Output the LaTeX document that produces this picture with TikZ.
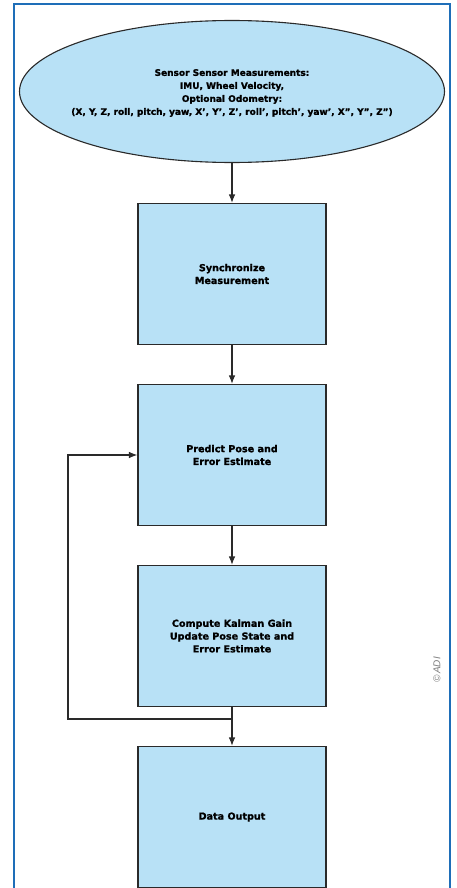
\documentclass[tikz,border=0pt]{standalone}
\usepackage{fontspec}
\setmainfont{DejaVu Sans}[BoldFeatures={FakeBold=1.2}]
\newfontfamily\copyfont{Liberation Sans}
\usetikzlibrary{shapes.geometric,arrows.meta}
\definecolor{boxfill}{HTML}{B8E1F6}
\definecolor{framec}{HTML}{1E6EB8}
\definecolor{linec}{HTML}{2A2A2A}
\begin{document}
\begin{tikzpicture}[x=1pt,y=-1pt,
  stepbox/.style={draw=linec,line width=1.1pt,fill=boxfill,minimum width=188pt,minimum height=141pt,
    align=center,font=\fontsize{9.6}{12.8}\selectfont\bfseries,inner sep=0pt},
  conn/.style={draw=linec,line width=1.1pt},
  arr/.style={conn,-{Latex[length=8.5pt,width=6.5pt]}}]
\useasboundingbox (0,0) rectangle (457,888);
\fill[white] (0,0) rectangle (457,888);
\draw[framec,line width=2pt] (14,892) -- (14,4) -- (450,4) -- (450,892);
\node[ellipse,draw=linec,line width=1.1pt,fill=boxfill,minimum width=425pt,minimum height=142pt,inner sep=0pt] (sensor) at (232,91.5) {};
\node[align=center,font=\fontsize{9}{13}\selectfont\bfseries,inner sep=0pt] (sensorlabel) at (232,93)
  {Sensor Sensor Measurements:\\IMU, Wheel Velocity,\\Optional Odometry:\\(X, Y, Z, roll, pitch, yaw, X', Y', Z', roll', pitch', yaw', X'', Y'', Z'')};
\node[stepbox] (sync) at (232,274) {Synchronize\\Measurement};
\node[stepbox] (predict) at (232,455) {Predict Pose and\\Error Estimate};
\node[stepbox] (compute) at (232,636) {Compute Kalman Gain\\Update Pose State and\\Error Estimate};
\node[stepbox] (output) at (232,817) {Data Output};
\coordinate (junc) at (232,719);
\coordinate (loopb) at (68,719);
\coordinate (loopt) at (68,455);
\draw[arr] (sensor.south) -- (sync.north);
\draw[arr] (sync.south) -- (predict.north);
\draw[arr] (predict.south) -- (compute.north);
\draw[conn] (compute.south) -- (junc);
\draw[arr] (junc) -- (output.north);
\draw[arr] (junc) -- (loopb) -- (loopt) -- (predict.west |- loopt);
\node[rotate=90,text=gray,font=\copyfont\fontsize{10}{11}\selectfont\itshape,inner sep=0pt] (copy) at (437,670) {\textcopyright\,ADI};
\end{tikzpicture}
\end{document}
